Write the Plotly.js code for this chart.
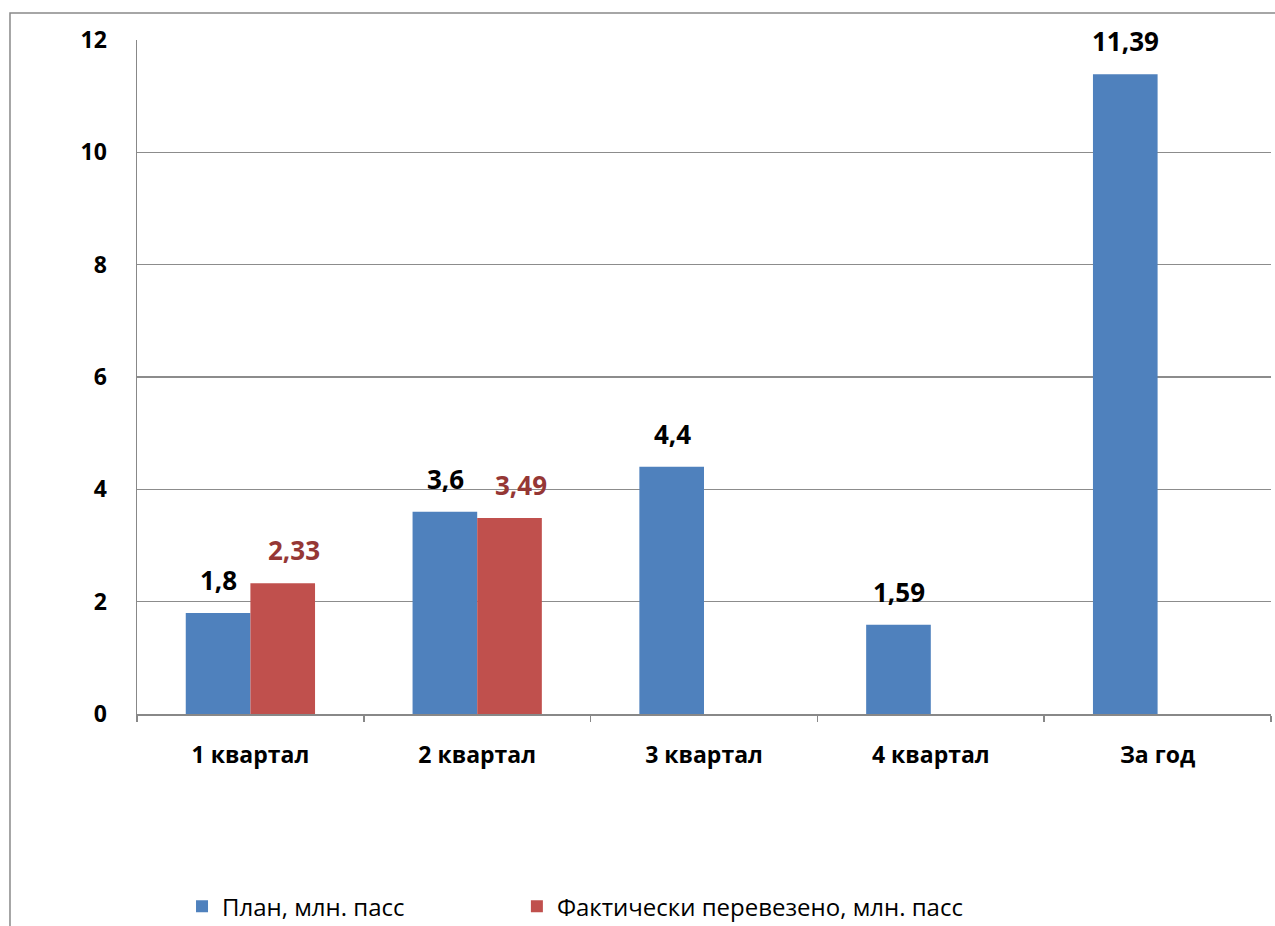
<!DOCTYPE html>
<html>
<head>
<meta charset="utf-8">
<script src="https://cdn.plot.ly/plotly-3.0.1.min.js"></script>
<style>html,body{margin:0;padding:0;background:#fff;}#chart{width:1275px;height:926px;}</style>
</head>
<body>
<div id="chart"></div>
<script>
const categories = ["1 квартал", "2 квартал", "3 квартал", "4 квартал", "За год"];
const planValues = [1.8, 3.6, 4.4, 1.59, 11.39];
const factValues = [2.33, 3.49, null, null, null];
const seriesNames = ["План, млн. пасс", "Фактически перевезено, млн. пасс"];
const yTicks = [0, 2, 4, 6, 8, 10, 12];

const blue = "#4F81BD", red = "#C0504D", redLabel = "#953735";
const fmt = v => String(v).replace(".", ",");
const fontFam = "'Open Sans', Lato, sans-serif";

const traces = [
  {type: "bar", name: seriesNames[0], x: categories, y: planValues, marker: {color: blue}, legend: "legend"},
  {type: "bar", name: seriesNames[1], x: categories, y: factValues, marker: {color: red}, legend: "legend2"}
];

const annotations = [];
const barShift = 32;
planValues.forEach((v, i) => {
  if (v == null) return;
  annotations.push({x: categories[i], y: v, xref: "x", yref: "y", text: fmt(v), showarrow: false,
    xshift: -barShift, yshift: 13, yanchor: "bottom", font: {family: fontFam, size: 26, color: "#000", weight: "bold"}});
});
factValues.forEach((v, i) => {
  if (v == null) return;
  annotations.push({x: categories[i], y: v, xref: "x", yref: "y", text: fmt(v), showarrow: false,
    xshift: barShift + 12, yshift: 13, yanchor: "bottom", font: {family: fontFam, size: 26, color: redLabel, weight: "bold"}});
});

const legendBase = {
  orientation: "h", xanchor: "left", y: -0.286, yanchor: "middle",
  font: {family: fontFam, size: 24, color: "#000"}, bgcolor: "rgba(0,0,0,0)"
};

const layout = {
  width: 1275, height: 926,
  margin: {l: 137, r: 4, t: 40, b: 212, pad: 0, autoexpand: false},
  paper_bgcolor: "#fff", plot_bgcolor: "#fff",
  barmode: "group", bargap: 0.43, bargroupgap: 0,
  font: {family: fontFam, color: "#000"},
  xaxis: {
    type: "category", automargin: false, showgrid: false, showline: true, linecolor: "#888", linewidth: 1.5,
    ticks: "outside", tickson: "boundaries", ticklen: 6, tickcolor: "#888", tickwidth: 1.5,
    ticklabelstandoff: 20,
    tickfont: {family: fontFam, size: 23, color: "#000", weight: "bold"}
  },
  yaxis: {
    range: [0, 12], tickvals: yTicks, ticktext: yTicks.map(String), automargin: false,
    showgrid: true, gridcolor: "#8c8c8c", gridwidth: 1.5,
    showline: true, linecolor: "#888", linewidth: 1.5, zeroline: false,
    ticks: "", ticklabelstandoff: 24,
    tickfont: {family: fontFam, size: 23, color: "#000", weight: "bold"}
  },
  showlegend: true,
  legend: Object.assign({}, legendBase, {x: 0.0397}),
  legend2: Object.assign({}, legendBase, {x: 0.335}),
  shapes: [
    {type: "rect", xref: "paper", yref: "paper", x0: -0.112, x1: 1.02, y0: -0.4, y1: 1.04,
     line: {color: "#898989", width: 1.5}, fillcolor: "rgba(0,0,0,0)", layer: "below"}
  ],
  annotations: annotations
};

Plotly.newPlot("chart", traces, layout, {displayModeBar: false, staticPlot: true});
</script>
</body>
</html>
